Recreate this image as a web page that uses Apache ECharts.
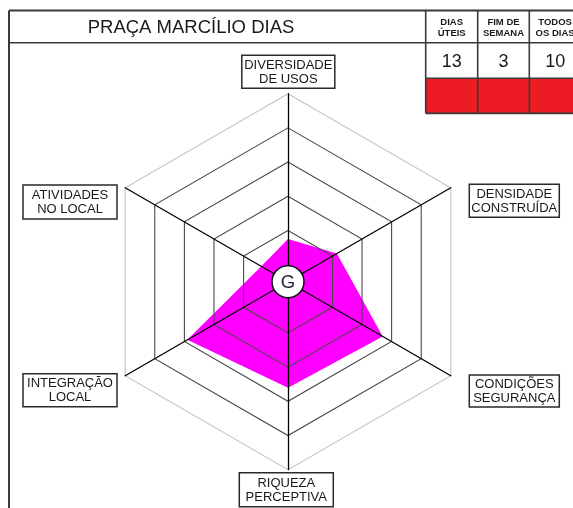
<!DOCTYPE html>
<html>
<head>
<meta charset="utf-8">
<script src="https://cdn.jsdelivr.net/npm/echarts@6/dist/echarts.min.js"></script>
<style>
html,body{margin:0;padding:0;background:#fff;}
#chart{width:573px;height:508px;}
</style>
</head>
<body>
<div id="chart"></div>
<script>
// ---- data ----
const title = 'PRAÇA MARCÍLIO DIAS';
const headerLabels = ['DIAS\nÚTEIS', 'FIM DE\nSEMANA', 'TODOS\nOS DIAS'];
const headerValues = ['13', '3', '10'];
// indicators in ECharts order (counter-clockwise from top)
const indicatorNames = ['DIVERSIDADE\nDE USOS', 'ATIVIDADES\nNO LOCAL', 'INTEGRAÇÃO\nLOCAL', 'RIQUEZA\nPERCEPTIVA', 'CONDIÇÕES\nSEGURANÇA', 'DENSIDADE\nCONSTRUÍDA'];
const scoreValues = [2.5, 1.8, 6.8, 6.2, 6.4, 3.3];
const scaleMax = 11;
const scaleSplits = 11;
const centerLetter = 'G';

// ---- layout ----
const CX = 288, CY = 281.7, R = 188;
const labelBoxes = [ // center x, center y, width, height (same order as indicatorNames)
  [288.3, 71.7, 93, 33],
  [70, 202, 94, 34],
  [70, 390.3, 94, 33],
  [286.3, 489.7, 94, 34],
  [514.3, 391, 90, 32],
  [514.3, 200.7, 90, 33]
];
const colX = [9, 425.7, 477.7, 529.3, 581];
const rowY = [10.5, 42.8, 78.3, 113.3];

const chart = echarts.init(document.getElementById('chart'), null, {renderer: 'canvas'});

// ring colors: index 0 = centre, odd rings drawn dark, last ring light
const ringColors = [];
for (let i = 0; i <= scaleSplits; i++) {
  if (i === scaleSplits) ringColors.push('#c4c4c4');
  else if (i % 2 === 1) ringColors.push('#4a4a4a');
  else ringColors.push('rgba(0,0,0,0)');
}

const graphics = [];
const LC = '#3a3a3a';
function line(x1, y1, x2, y2, w) {
  graphics.push({type: 'line', z: 10, shape: {x1, y1, x2, y2}, style: {stroke: LC, lineWidth: w || 1.6}});
}
// red row
graphics.push({type: 'rect', z: 9, shape: {x: colX[1], y: rowY[2], width: colX[4] - colX[1], height: rowY[3] - rowY[2]}, style: {fill: '#ED1C24'}});
// table lines
line(colX[0], rowY[0], 573, rowY[0], 2);
line(colX[0], rowY[0], colX[0], 508, 2);
line(colX[0], rowY[1], 573, rowY[1], 1.6);
line(colX[1], rowY[2], 573, rowY[2], 1.6);
line(colX[1], rowY[3], 573, rowY[3], 1.8);
for (let i = 1; i <= 3; i++) line(colX[i], rowY[0], colX[i], rowY[3], 1.6);
// title
graphics.push({type: 'text', z: 11, x: 191, y: (rowY[0] + rowY[1]) / 2 + 1,
  style: {text: title, font: '18.5px "Liberation Sans", Arial, sans-serif', fill: '#1a1a1a', align: 'center', verticalAlign: 'middle'}});
// header cells
for (let i = 0; i < 3; i++) {
  const cx = (colX[i + 1] + colX[i + 2]) / 2;
  graphics.push({type: 'text', z: 11, x: cx, y: (rowY[0] + rowY[1]) / 2 + 1,
    style: {text: headerLabels[i], font: 'bold 9.5px "Liberation Sans", Arial, sans-serif', lineHeight: 11, fill: '#1a1a1a', align: 'center', verticalAlign: 'middle'}});
  graphics.push({type: 'text', z: 11, x: cx, y: (rowY[1] + rowY[2]) / 2 + 1,
    style: {text: headerValues[i], font: '18px "Liberation Sans", Arial, sans-serif', fill: '#1a1a1a', align: 'center', verticalAlign: 'middle'}});
}
// axis name boxes
indicatorNames.forEach((name, i) => {
  const b = labelBoxes[i];
  graphics.push({type: 'rect', z: 11, shape: {x: b[0] - b[2] / 2, y: b[1] - b[3] / 2, width: b[2], height: b[3]},
    style: {fill: '#fff', stroke: '#2a2a2a', lineWidth: 1.5}});
  graphics.push({type: 'text', z: 12, x: b[0], y: b[1] + 0.5,
    style: {text: name, font: '13px "Liberation Sans", Arial, sans-serif', lineHeight: 14, fill: '#1a1a1a', align: 'center', verticalAlign: 'middle'}});
});
// centre marker
graphics.push({type: 'circle', z: 20, shape: {cx: CX, cy: CY, r: 16}, style: {fill: '#fff', stroke: '#111', lineWidth: 1.5}});
graphics.push({type: 'text', z: 21, x: CX, y: CY + 1,
  style: {text: centerLetter, font: '18.5px "Liberation Sans", Arial, sans-serif', fill: '#1f2233', align: 'center', verticalAlign: 'middle'}});

chart.setOption({
  animation: false,
  backgroundColor: '#fff',
  radar: {
    z: 5,
    center: [CX, CY],
    radius: R,
    startAngle: 90,
    shape: 'polygon',
    splitNumber: scaleSplits,
    indicator: indicatorNames.map(n => ({name: n, min: 0, max: scaleMax})),
    axisName: {show: false},
    axisLine: {lineStyle: {color: '#000', width: 1.3}},
    axisTick: {show: false},
    axisLabel: {show: false},
    splitLine: {lineStyle: {color: ringColors, width: 1.1}},
    splitArea: {show: false}
  },
  series: [{
    type: 'radar',
    z: 1,
    symbol: 'none',
    lineStyle: {width: 0, color: '#ff00ff'},
    areaStyle: {color: '#ff00ff', opacity: 1},
    itemStyle: {color: '#ff00ff'},
    data: [{value: scoreValues, name: title}]
  }],
  graphic: graphics
});
</script>
</body>
</html>
